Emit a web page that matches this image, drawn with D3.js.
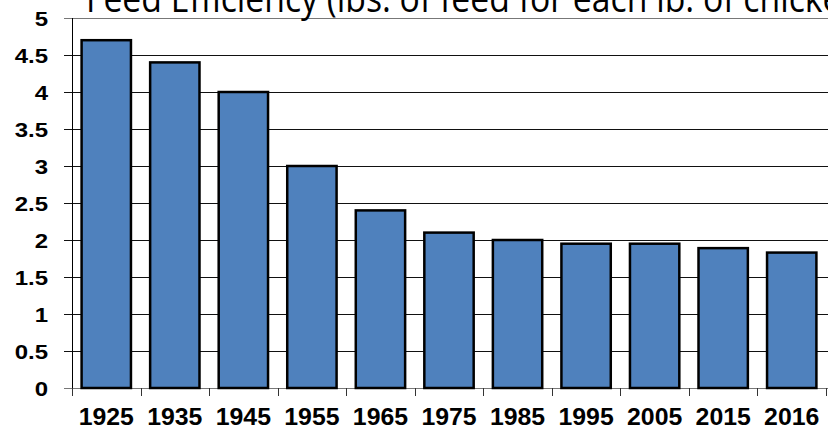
<!DOCTYPE html>
<html>
<head>
<meta charset="utf-8">
<script src="https://cdn.jsdelivr.net/npm/d3@7"></script>
<style>
  body { margin: 0; background: #fff; }
  svg { display: block; }
</style>
</head>
<body>
<svg id="chart" width="828" height="430"></svg>
<script>
// values
var years = ["1925", "1935", "1945", "1955", "1965", "1975", "1985", "1995", "2005", "2015", "2016"];
var feed = [4.7, 4.4, 4.0, 3.0, 2.4, 2.1, 2.0, 1.95, 1.95, 1.89, 1.83];
var yTicks = [0, 0.5, 1, 1.5, 2, 2.5, 3, 3.5, 4, 4.5, 5];
var title = "Feed Efficiency (lbs. of feed for each lb. of chicken)";

var svg = d3.select("#chart");
var plotLeft = 72, plotRight = 826, plotTop = 18, plotBottom = 388;

var x = d3.scaleBand()
  .domain(years)
  .range([plotLeft, plotRight])
  .paddingInner(0.28)
  .paddingOuter(0.14);

var y = d3.scaleLinear()
  .domain([0, 5])
  .range([plotBottom, plotTop]);

function crisp(v) { return Math.round(v) + 0.5; }

// grid lines
svg.selectAll(".grid")
  .data(yTicks)
  .enter()
  .append("line")
  .attr("class", "grid")
  .attr("x1", 64)
  .attr("x2", 828)
  .attr("y1", function(d) { return crisp(y(d)); })
  .attr("y2", function(d) { return crisp(y(d)); })
  .style("stroke", function(d) { return (d == 0 || d == 5) ? "#777" : "#111"; })
  .style("stroke-width", 1);

// y axis line
svg.append("line")
  .attr("x1", crisp(plotLeft)).attr("x2", crisp(plotLeft))
  .attr("y1", plotTop).attr("y2", plotBottom + 8)
  .style("stroke", "#000");

// x ticks between categories
var bounds = years.map(function(d) { return x(d) - x.step() * x.paddingInner() / 2; });
bounds.push(plotRight);
svg.selectAll(".xtick")
  .data(bounds)
  .enter()
  .append("line")
  .attr("class", "xtick")
  .attr("x1", function(d) { return crisp(d); })
  .attr("x2", function(d) { return crisp(d); })
  .attr("y1", plotBottom)
  .attr("y2", plotBottom + 8)
  .style("stroke", "#333");

// bars
svg.selectAll(".bar")
  .data(feed)
  .enter()
  .append("rect")
  .attr("class", "bar")
  .attr("x", function(d, i) { return x(years[i]); })
  .attr("y", function(d) { return y(d); })
  .attr("width", x.bandwidth())
  .attr("height", function(d) { return plotBottom - y(d); })
  .style("fill", "#4f81bd")
  .style("stroke", "#000")
  .style("stroke-width", 2.5);

// y labels
svg.selectAll(".ylab")
  .data(yTicks)
  .enter()
  .append("text")
  .attr("class", "ylab")
  .attr("transform", function(d) { return "translate(48," + (y(d) + 7.5) + ") scale(1.2,1)"; })
  .attr("text-anchor", "end")
  .style("font-family", "Liberation Sans, Arial, sans-serif")
  .style("font-weight", "bold")
  .style("font-size", "20px")
  .text(function(d) { return d; });

// x labels
svg.selectAll(".xlab")
  .data(years)
  .enter()
  .append("text")
  .attr("class", "xlab")
  .attr("transform", function(d) { return "translate(" + (x(d) + x.bandwidth() / 2) + ",424.5) scale(1.08,1)"; })
  .attr("text-anchor", "middle")
  .style("font-family", "Liberation Sans, Arial, sans-serif")
  .style("font-weight", "bold")
  .style("font-size", "23px")
  .text(function(d) { return d; });

// title, cut off at the top and right like the picture
var squeeze = 0.88;
var t = svg.append("text")
  .attr("transform", "translate(86,12) scale(" + squeeze + ",1)")
  .style("font-family", "Open Sans, sans-serif")
  .style("font-size", "26px")
  .style("fill", "#000")
  .text(title.slice(0, title.length - 3));
var w = t.node().getComputedTextLength() * squeeze;
t.style("font-size", (26 * 736 / w) + "px").text(title);
</script>
</body>
</html>
